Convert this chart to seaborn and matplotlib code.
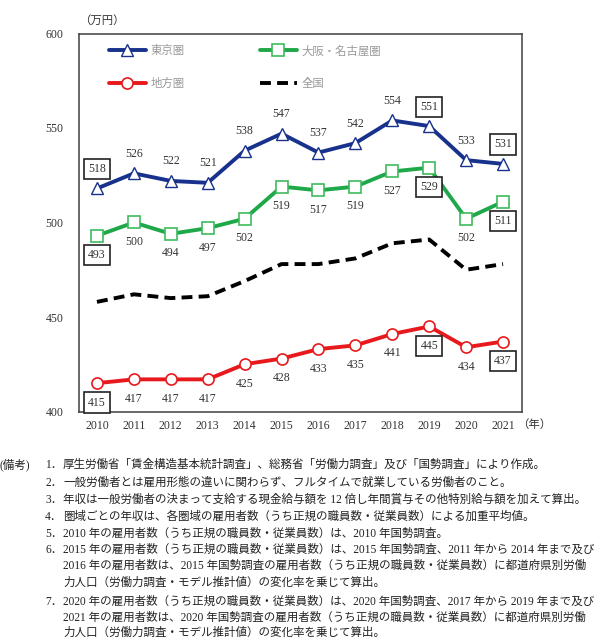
import matplotlib
matplotlib.use("Agg")
import matplotlib.pyplot as plt
import seaborn as sns

# data
years = [2010, 2011, 2012, 2013, 2014, 2015, 2016, 2017, 2018, 2019, 2020, 2021]
tokyo = [518, 526, 522, 521, 538, 547, 537, 542, 554, 551, 533, 531]
osaka_nagoya = [493, 500, 494, 497, 502, 519, 517, 519, 527, 529, 502, 511]
chiho = [415, 417, 417, 417, 425, 428, 433, 435, 441, 445, 434, 437]
zenkoku = [458, 462, 460, 461, 469, 478, 478, 481, 489, 491, 475, 478]
boxed_years = [2010, 2019, 2021]
y_ticks = [400, 450, 500, 550, 600]

notes = [
    ("1．", "厚生労働省「賃金構造基本統計調査」、総務省「労働力調査」及び「国勢調査」により作成。"),
    ("2．", "一般労働者とは雇用形態の違いに関わらず、フルタイムで就業している労働者のこと。"),
    ("3．", "年収は一般労働者の決まって支給する現金給与額を 12 倍し年間賞与その他特別給与額を加えて算出。"),
    ("4．", "圏域ごとの年収は、各圏域の雇用者数（うち正規の職員数・従業員数）による加重平均値。"),
    ("5．", "2010 年の雇用者数（うち正規の職員数・従業員数）は、2010 年国勢調査。"),
    ("6．", "2015 年の雇用者数（うち正規の職員数・従業員数）は、2015 年国勢調査、2011 年から 2014 年まで及び"),
    ("", "2016 年の雇用者数は、2015 年国勢調査の雇用者数（うち正規の職員数・従業員数）に都道府県別労働"),
    ("", "力人口（労働力調査・モデル推計値）の変化率を乗じて算出。"),
    ("7．", "2020 年の雇用者数（うち正規の職員数・従業員数）は、2020 年国勢調査、2017 年から 2019 年まで及び"),
    ("", "2021 年の雇用者数は、2020 年国勢調査の雇用者数（うち正規の職員数・従業員数）に都道府県別労働"),
    ("", "力人口（労働力調査・モデル推計値）の変化率を乗じて算出。"),
]
note_rows = [465, 483, 500, 517, 534, 550, 566, 583, 602, 618, 633]

sns.set_style("white")
FONT = ["Liberation Serif", "Noto Sans CJK JP"]
plt.rcParams["font.family"] = FONT

W, H = 606, 638
fig = plt.figure(figsize=(W / 100, H / 100), dpi=100)
ax = fig.add_axes([78.5 / W, 1 - 411.5 / H, 443 / W, 378 / H])

navy = "#17318c"
green = "#1fa84a"
red = "#e8191c"

sns.lineplot(x=years, y=tokyo, ax=ax, color=navy, lw=2.8, marker="^", markersize=9,
             markerfacecolor="white", markeredgecolor=navy, markeredgewidth=1.0,
             label="東京圏", zorder=4)
sns.lineplot(x=years, y=chiho, ax=ax, color=red, lw=2.8, marker="o", markersize=8,
             markerfacecolor="white", markeredgecolor=red, markeredgewidth=1.2,
             label="地方圏", zorder=4)
sns.lineplot(x=years, y=osaka_nagoya, ax=ax, color=green, lw=2.8, marker="s", markersize=8,
             markerfacecolor="white", markeredgecolor="#3dbb5c", markeredgewidth=1.2,
             label="大阪・名古屋圏", zorder=4)
sns.lineplot(x=years, y=zenkoku, ax=ax, color="black", lw=2.8, dashes=(2.8, 1.6),
             label="全国", zorder=3)

box = dict(boxstyle="square,pad=0.35", fc="white", ec="#222222", lw=1.2)


def label_series(vals, dy):
    for yr, v in zip(years, vals):
        ax.annotate(str(v), (yr, v), xytext=(0, dy), textcoords="offset points",
                    ha="center", va="center", fontsize=8.5, color="#333333",
                    bbox=box if yr in boxed_years else None, zorder=6)


label_series(tokyo, 14)
label_series(osaka_nagoya, -14)
label_series(chiho, -14)

ax.set_xlim(2009.5, 2021.5)
ax.set_ylim(400, 600)
ax.set_yticks(y_ticks)
ax.set_xticks(years)
ax.set_xticklabels([str(y) for y in years])
ax.tick_params(axis="y", direction="in", length=4, width=1, color="#404040",
               pad=11, labelsize=8.5, labelcolor="#333333")
ax.tick_params(axis="x", length=0, pad=6, labelsize=8.5, labelcolor="#333333")
ax.set_xlabel("")
ax.set_ylabel("")
for sp in ax.spines.values():
    sp.set_visible(True)
    sp.set_color("#404040")
    sp.set_linewidth(1.1)

leg = ax.legend(loc="upper left", bbox_to_anchor=(0.045, 0.997), ncol=2, frameon=False,
                fontsize=8.2, handlelength=3.3, handletextpad=0.35, columnspacing=6.6,
                labelspacing=1.9)
for t in leg.get_texts():
    t.set_color("#999999")

fig.text(102 / W, 1 - 20 / H, "（万円）", ha="center", va="center", fontsize=8.2,
         color="#333333")
fig.text(534 / W, 1 - 424 / H, "（年）", ha="center", va="center", fontsize=8.2,
         color="#333333")

fig.text(0 / W, 1 - note_rows[0] / H, "(備考)", ha="left", va="center", fontsize=8.3,
         color="#222222")
for (num, body), row in zip(notes, note_rows):
    yy = 1 - row / H
    if num:
        fig.text(45 / W, yy, num, ha="left", va="center", fontsize=8.3, color="#222222")
    fig.text(63 / W, yy, body, ha="left", va="center", fontsize=8.3, color="#222222")

fig.savefig("out.png", dpi=100)
